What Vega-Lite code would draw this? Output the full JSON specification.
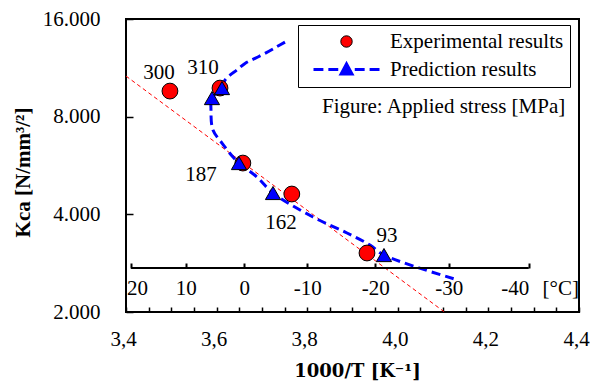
{
  "$schema": "https://vega.github.io/schema/vega-lite/v6.json",
  "width": 453,
  "height": 293,
  "autosize": {"type": "none"},
  "padding": {"left": 126, "top": 19, "right": 11, "bottom": 72},
  "background": "white",
  "config": {
    "view": {"stroke": "black", "strokeWidth": 2},
    "font": "Liberation Serif",
    "axis": {"grid": false, "domain": false, "labelFont": "Liberation Serif", "labelFontSize": 21, "labelColor": "black", "tickColor": "black", "labelFlush": false, "labelOverlap": false, "titleColor": "black"}
  },
  "datasets": {
    "fit": [{"x": 3.4, "y": 10672}, {"x": 4.103, "y": 2000}],
    "curve": [
      {"series": "Prediction results", "o": 1, "x": 3.751, "y": 13582},
      {"series": "Prediction results", "o": 2, "x": 3.7327, "y": 13136},
      {"series": "Prediction results", "o": 3, "x": 3.7068, "y": 12535},
      {"series": "Prediction results", "o": 4, "x": 3.6848, "y": 12098},
      {"series": "Prediction results", "o": 5, "x": 3.6627, "y": 11676},
      {"series": "Prediction results", "o": 6, "x": 3.6444, "y": 11134},
      {"series": "Prediction results", "o": 7, "x": 3.6296, "y": 10746},
      {"series": "Prediction results", "o": 8, "x": 3.6185, "y": 10372},
      {"series": "Prediction results", "o": 9, "x": 3.6119, "y": 9800},
      {"series": "Prediction results", "o": 10, "x": 3.5898, "y": 9128},
      {"series": "Prediction results", "o": 11, "x": 3.5876, "y": 8384},
      {"series": "Prediction results", "o": 12, "x": 3.592, "y": 7274},
      {"series": "Prediction results", "o": 13, "x": 3.6119, "y": 6634},
      {"series": "Prediction results", "o": 14, "x": 3.6362, "y": 6006},
      {"series": "Prediction results", "o": 15, "x": 3.6494, "y": 5756},
      {"series": "Prediction results", "o": 16, "x": 3.6892, "y": 5212},
      {"series": "Prediction results", "o": 17, "x": 3.7245, "y": 4653},
      {"series": "Prediction results", "o": 18, "x": 3.8128, "y": 3924},
      {"series": "Prediction results", "o": 19, "x": 3.8879, "y": 3503},
      {"series": "Prediction results", "o": 20, "x": 3.9386, "y": 3217},
      {"series": "Prediction results", "o": 21, "x": 3.9695, "y": 2996},
      {"series": "Prediction results", "o": 22, "x": 4.1329, "y": 2510}
    ],
    "exp": [
      {"series": "Experimental results", "stress": 300, "x": 3.497, "y": 9594},
      {"series": "Experimental results", "stress": 310, "x": 3.6075, "y": 9800},
      {"series": "Experimental results", "stress": 187, "x": 3.658, "y": 5756},
      {"series": "Experimental results", "stress": 162, "x": 3.766, "y": 4620},
      {"series": "Experimental results", "stress": 93, "x": 3.932, "y": 3040}
    ],
    "pred": [
      {"series": "Prediction results", "x": 3.5898, "y": 9128},
      {"series": "Prediction results", "x": 3.6119, "y": 9800},
      {"series": "Prediction results", "x": 3.6494, "y": 5756},
      {"series": "Prediction results", "x": 3.7245, "y": 4653},
      {"series": "Prediction results", "x": 3.9695, "y": 2996}
    ],
    "labels": [
      {"t": "300", "x": 3.4728, "y": 10900},
      {"t": "310", "x": 3.570, "y": 11294},
      {"t": "187", "x": 3.5656, "y": 5286},
      {"t": "162", "x": 3.742, "y": 3761},
      {"t": "93", "x": 3.976, "y": 3430},
      {"t": "Figure: Applied stress [MPa]", "x": 4.1012, "y": 8563}
    ],
    "legendItems": [
      {"series": "Experimental results"},
      {"series": "Prediction results"}
    ]
  },
  "layer": [
    {
      "encoding": {
        "x": {
          "field": "x", "type": "quantitative",
          "scale": {"domain": [3.4, 4.4], "nice": false, "zero": false},
          "axis": {
            "values": [3.4, 3.45, 3.5, 3.55, 3.6, 3.65, 3.7, 3.75, 3.8, 3.85, 3.9, 3.95, 4.0, 4.05, 4.1, 4.15, 4.2, 4.25, 4.3, 4.35, 4.4],
            "labelExpr": "abs(datum.value * 5 - round(datum.value * 5)) < 0.01 ? replace(format(datum.value, '.1f'), '.', ',') : ''",
            "tickSize": -5, "tickWidth": 1.5, "labelPadding": 21, "labelOffset": -3,
            "title": "1000/T [K⁻¹]", "titleFont": "DejaVu Serif", "titleFontSize": 18, "titleFontWeight": "bold",
            "titleX": 231, "titleY": 59, "titleBaseline": "middle", "titleAlign": "center"
          }
        },
        "y": {
          "field": "y", "type": "quantitative",
          "scale": {"type": "log", "domain": [2000, 16000], "nice": false},
          "axis": null
        }
      },
      "layer": [
        {
          "data": {"name": "fit"},
          "mark": {"type": "line", "color": "#FF0000", "strokeWidth": 1, "strokeDash": [4, 3], "clip": true}
        },
        {
          "data": {"name": "curve"},
          "mark": {"type": "line", "color": "#0000FF", "strokeWidth": 3, "strokeDash": [9, 5], "interpolate": "catmull-rom", "clip": true},
          "encoding": {"order": {"field": "o", "type": "quantitative"}}
        },
        {
          "data": {"name": "exp"},
          "mark": {"type": "point", "shape": "circle", "filled": true, "size": 250, "fill": "#FF0000", "stroke": "black", "strokeWidth": 1, "opacity": 1}
        },
        {
          "data": {"name": "pred"},
          "mark": {"type": "point", "shape": "triangle-up", "filled": true, "size": 230, "fill": "#0000FF", "stroke": "black", "strokeWidth": 1, "opacity": 1}
        },
        {
          "data": {"name": "labels"},
          "mark": {"type": "text", "font": "Liberation Serif", "fontSize": 21, "baseline": "middle", "align": "center", "color": "black"},
          "encoding": {"text": {"field": "t"}}
        },
        {
          "data": {"name": "legendItems"},
          "transform": [{"filter": "false"}],
          "mark": {"type": "point", "filled": true, "opacity": 1},
          "encoding": {
            "color": {
              "field": "series", "type": "nominal",
              "scale": {"domain": ["Experimental results", "Prediction results"], "range": ["#FF0000", "#0000FF"]},
              "legend": {
                "title": null, "orient": "none", "legendX": 172, "legendY": 6,
                "strokeColor": "black", "fillColor": "white", "padding": 6, "rowPadding": 5,
                "symbolOffset": 30, "labelOffset": 31, "symbolOpacity": 1,
                "labelFont": "Liberation Serif", "labelFontSize": 21, "labelColor": "black", "labelLimit": 400
              }
            },
            "stroke": {
              "field": "series", "type": "nominal",
              "scale": {"domain": ["Experimental results", "Prediction results"], "range": ["black", "#0000FF"]}
            },
            "shape": {
              "field": "series", "type": "nominal",
              "scale": {"domain": ["Experimental results", "Prediction results"], "range": ["circle", "M-3,0H-2.1M-1.65,0H-0.75M0.75,0H1.65M2.1,0H3M-0.5,0.42L0,-0.5L0.5,0.42Z"]}
            },
            "size": {
              "field": "series", "type": "nominal",
              "scale": {"type": "ordinal", "domain": ["Experimental results", "Prediction results"], "range": [130, 484]}
            },
            "strokeWidth": {
              "field": "series", "type": "nominal",
              "scale": {"type": "ordinal", "domain": ["Experimental results", "Prediction results"], "range": [1, 3]}
            }
          }
        }
      ]
    },
    {
      "data": {"values": [{}]},
      "mark": {"type": "rule", "color": "black", "strokeWidth": 2},
      "encoding": {
        "x": {
          "datum": 3.4112, "type": "quantitative",
          "scale": {"domain": [3.4, 4.4], "nice": false, "zero": false},
          "axis": {
            "orient": "bottom", "offset": -44,
            "values": [3.4112, 3.5317, 3.661, 3.8002, 3.9502, 4.1127, 4.289],
            "labelExpr": "'' + round(1000 / datum.value - 273.15)",
            "labelAlign": {"condition": {"test": "datum.value > 4.2", "value": "right"}, "value": "center"},
            "labelOffset": {"condition": {"test": "datum.value < 3.45", "value": 6}, "value": 0},
            "tickSize": -5, "tickWidth": 2, "labelPadding": 14,
            "title": "[°C]", "titleX": 416, "titleY": 20, "titleAlign": "left", "titleBaseline": "middle", "titleAngle": 0,
            "titleFont": "Liberation Serif", "titleFontSize": 21, "titleFontWeight": "normal"
          }
        },
        "x2": {"datum": 4.289},
        "y": {
          "datum": 2733, "type": "quantitative",
          "scale": {"type": "log", "domain": [2000, 16000], "nice": false},
          "axis": {
            "orient": "left",
            "values": [2000, 4000, 8000, 16000],
            "labelExpr": "replace(format(datum.value, ','), ',', '.')",
            "tickSize": -7, "tickWidth": 1.5, "labelPadding": 33,
            "title": "Kca [N/mm³/²]", "titleFont": "Liberation Serif", "titleFontSize": 21, "titleFontWeight": "bold",
            "titleX": -103, "titleY": 153, "titleAngle": 270, "titleBaseline": "middle", "titleAlign": "center"
          }
        }
      }
    }
  ],
  "resolve": {"axis": {"x": "independent", "y": "independent"}}
}
